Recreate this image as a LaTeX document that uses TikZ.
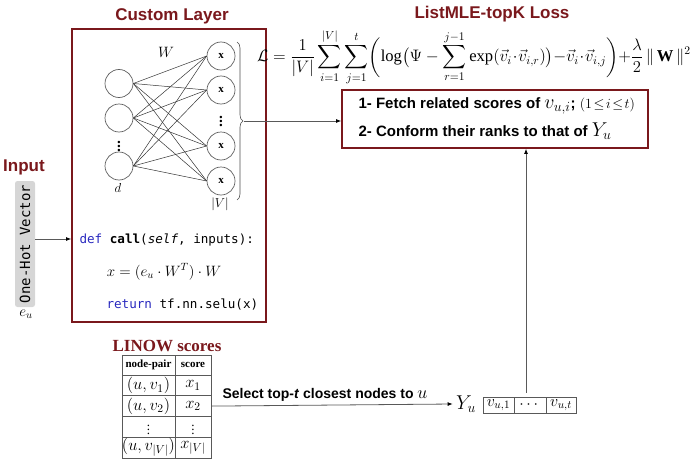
\RequirePackage{fix-cm}
\documentclass[tikz,border=0pt]{standalone}
\usepackage{amsmath,amssymb}
\usepackage{graphicx}
\usepackage{fontspec}
\setmainfont{Liberation Serif}
\setsansfont{Liberation Sans}
\setmonofont{DejaVu Sans Mono}
\usetikzlibrary{arrows.meta,decorations.pathreplacing,calc}
\definecolor{dred}{RGB}{122,24,28}
\definecolor{codeblue}{RGB}{40,40,190}
\definecolor{lgray}{RGB}{95,95,95}
\definecolor{boxgray}{RGB}{214,214,214}
\begin{document}
\begin{tikzpicture}[x=1pt,y=-1pt,
  title/.style={font=\fontsize{17}{20}\selectfont\sffamily\bfseries, text=dred},
  redbox/.style={draw=dred, line width=1.8pt, inner sep=0pt},
  neuron/.style={circle, draw=lgray, line width=0.7pt, minimum size=28pt, inner sep=0pt, font=\fontsize{11}{11}\selectfont\bfseries},
  conn/.style={draw=black!80, line width=0.5pt},
  arr/.style={draw=black!65, line width=0.8pt, -{Latex[length=5pt,width=4pt,color=black]}},
  boxtext/.style={anchor=west, font=\fontsize{15}{16}\selectfont\sffamily\bfseries},
  codetext/.style={anchor=west, font=\fontsize{12.6}{14}\selectfont\ttfamily},
  tcell/.style={draw=black!65, line width=0.6pt, inner sep=0pt, font=\fontsize{16.5}{17}\selectfont},
  acell/.style={draw=black!65, line width=0.6pt, inner sep=0pt, minimum height=16pt, font=\fontsize{16}{16}\selectfont}
]
\useasboundingbox (0,0) rectangle (700,460);

% ---------- Custom layer ----------
\node[title] (layertitle) at (172,16) {Custom Layer};
\node[redbox, minimum width=194pt, minimum height=293pt] (layer) at (169,175.5) {};

\node[neuron] (l1) at (119,83.5) {};
\node[neuron] (l2) at (119,118) {};
\node[font=\fontsize{15}{15}\selectfont\bfseries] (ldots) at (119,143) {$\boldsymbol{\vdots}$};
\node[neuron] (l3) at (119,166) {};

\node[neuron] (r1) at (221,56) {x};
\node[neuron] (r2) at (221,90) {x};
\node[font=\fontsize{15}{15}\selectfont\bfseries] (rdots) at (221,118) {$\boldsymbol{\vdots}$};
\node[neuron] (r3) at (221,146) {x};
\node[neuron] (r4) at (221,181) {x};

\foreach \a in {l1,l2,l3}
  \foreach \b in {r1,r2,r3,r4}
    \draw[conn] (\a.east) -- (\b.west);

\node[font=\fontsize{15}{15}\selectfont] (wlab) at (166,52) {$W$};
\node[font=\fontsize{13}{13}\selectfont] (dlab) at (118,188) {$d$};
\node[font=\fontsize{13}{13}\selectfont] (vlab) at (220,204) {$|V|$};

\draw[decorate, decoration={brace, amplitude=6pt}, draw=black!70, line width=0.6pt] (237,42) -- (237,200);
\coordinate (btip) at (244,121);

% code
\node[codetext] (code1) at (76,240) {\textcolor{codeblue}{def} \textbf{call}(\textit{self}, inputs):};
\node[font=\fontsize{15}{15}\selectfont] (code2) at (164,272) {$x = (e_u\cdot W^T)\cdot W$};
\node[codetext] (code3) at (103,305) {\textcolor{codeblue}{return} tf.nn.selu(x)};

% ---------- Input ----------
\node[title] (inputtitle) at (24,167) {Input};
\node[fill=boxgray, rounded corners=2.5pt, rotate=90, minimum width=126pt, minimum height=20pt, inner sep=0pt, font=\fontsize{14}{14}\selectfont\ttfamily] (onehot) at (25,244) {One-Hot Vector};
\node[font=\fontsize{15}{15}\selectfont] (eu) at (26,314) {$e_u$};
\coordinate (ohout) at (35,239);
\draw[arr] (ohout) -- (ohout -| layer.west);

% ---------- Loss ----------
\node[title] (losstitle) at (492,14) {ListMLE-topK Loss};
\node[anchor=east, inner sep=0pt, font=\fontsize{16.6}{17}\selectfont] (formula) at (691,57) {$\displaystyle \mathcal{L}=\frac{1}{|V|}\sum_{i=1}^{|V|}\sum_{j=1}^{t}\biggl(\log\bigl(\Psi-\sum_{r=1}^{j-1}\exp(\vec{v}_i\!\cdot\!\vec{v}_{i,r})\bigr){-}\vec{v}_i\!\cdot\!\vec{v}_{i,j}\biggr){+}\frac{\lambda}{2}\,\|\,\mathbf{W}\,\|^2$};
\node[redbox, minimum width=306pt, minimum height=58pt] (loss) at (495,119) {};
\node[boxtext] (line1) at (355,106) {1- Fetch related scores of {\fontsize{20}{20}\selectfont$v_{u,i}$}; {\fontsize{14}{14}\selectfont$(1\!\leq\! i\!\leq\! t)$}};
\node[boxtext] (line2) at (355,131) {2- Conform their ranks to that of {\fontsize{20}{20}\selectfont$Y_u$}};

\draw[arr] (btip) -- (btip -| loss.west);

% ---------- LINOW table ----------
\node[font=\fontsize{17}{20}\selectfont\bfseries, text=dred] (linow) at (167,346) {LINOW scores};
\node[tcell, minimum width=53pt, minimum height=20pt, font=\fontsize{11}{11}\selectfont\bfseries] (h1) at (148.5,365) {node-pair};
\node[tcell, minimum width=36pt, minimum height=20pt, font=\fontsize{11}{11}\selectfont\bfseries] (h2) at (193,365) {score};
\node[tcell, minimum width=53pt, minimum height=20.75pt] (c11) at (148.5,385.4) {$(u,v_1)$};
\node[tcell, minimum width=36pt, minimum height=20.75pt] (c12) at (193,385.4) {$x_1$};
\node[tcell, minimum width=53pt, minimum height=20.75pt] (c21) at (148.5,406.1) {$(u,v_2)$};
\node[tcell, minimum width=36pt, minimum height=20.75pt] (c22) at (193,406.1) {$x_2$};
\node[tcell, minimum width=53pt, minimum height=20.75pt, font=\fontsize{13}{13}\selectfont] (c31) at (148.5,426.9) {$\boldsymbol{\vdots}$};
\node[tcell, minimum width=36pt, minimum height=20.75pt, font=\fontsize{13}{13}\selectfont] (c32) at (193,426.9) {$\boldsymbol{\vdots}$};
\node[tcell, minimum width=53pt, minimum height=20.75pt] (c41) at (148.5,447.6) {$(u,v_{|V|})$};
\node[tcell, minimum width=36pt, minimum height=20.75pt] (c42) at (193,447.6) {$x_{|V|}$};

% ---------- Y_u ----------
\node[font=\fontsize{20}{20}\selectfont] (Yu) at (466,404) {$Y_u$};
\node[acell, minimum width=31pt] (a1) at (498.5,405) {$v_{u,1}$};
\node[acell, minimum width=32pt] (a2) at (530,405) {$\cdots$};
\node[acell, minimum width=30pt] (a3) at (561,405) {$v_{u,t}$};

\draw[arr] (c22.east) -- (Yu.west);
\node[anchor=west, font=\fontsize{14}{15}\selectfont\sffamily\bfseries] (sel) at (219,395) {Select top-\textit{t} closest nodes to {\fontsize{18}{18}\selectfont$u$}};

\coordinate (upfoot) at ($(a2.north)+(-4,-4)$);
\draw[arr] (upfoot) -- (upfoot |- loss.south);
\end{tikzpicture}
\end{document}
